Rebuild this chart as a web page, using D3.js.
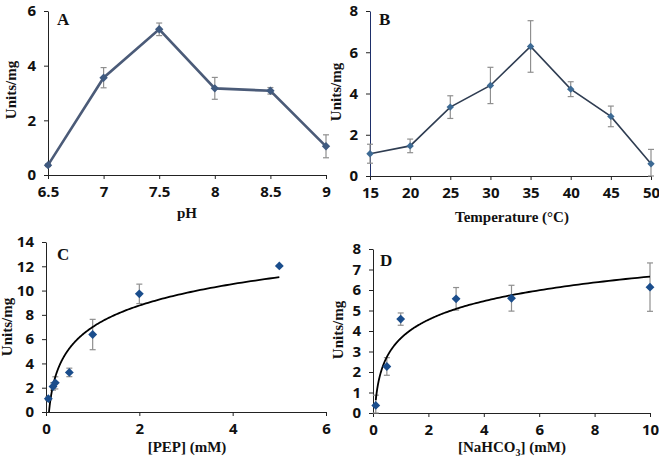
<!DOCTYPE html>
<html>
<head>
<meta charset="utf-8">
<script src="https://cdn.jsdelivr.net/npm/d3@7"></script>
<style>
  body { margin: 0; background: #fff; }
  .tick text { font-family: "Open Sans", sans-serif; font-weight: bold; font-size: 15px; fill: #111; }
  .ttl { font-family: "Liberation Serif", serif; font-weight: bold; font-size: 15px; fill: #111; }
  .letter { font-family: "Liberation Serif", serif; font-weight: bold; font-size: 17px; fill: #111; }
</style>
</head>
<body>
<script>
// A: pH
const phX = [6.5, 7, 7.5, 8, 8.5, 9];
const phY = [0.36, 3.56, 5.33, 3.17, 3.08, 1.05];
const phErr = [0.05, 0.37, 0.23, 0.4, 0.12, 0.42];
// B: temperature
const tempX = [15, 20, 25, 30, 35, 40, 45, 50];
const tempY = [1.08, 1.46, 3.34, 4.39, 6.28, 4.21, 2.89, 0.59];
const tempErr = [0.46, 0.33, 0.55, 0.88, 1.25, 0.36, 0.5, 0.7];
// C: PEP
const pepX = [0.05, 0.15, 0.2, 0.5, 1, 2, 5];
const pepY = [1.1, 2.1, 2.4, 3.26, 6.38, 9.73, 12.03];
const pepErr = [0.15, 0.3, 0.5, 0.35, 1.25, 0.8, 0.05];
const pepFit = { a: 2.55, b: 7.0 };       // log trendline y = a ln x + b
// D: NaHCO3
const bicX = [0.1, 0.5, 1, 3, 5, 10];
const bicY = [0.37, 2.27, 4.58, 5.57, 5.6, 6.14];
const bicErr = [0.5, 0.43, 0.3, 0.55, 0.63, 1.18];
const bicFit = { a: 1.31, b: 3.64 };

const svg = d3.select("body").append("svg").attr("width", 659).attr("height", 464);

function panel(o) {
  const x = d3.scaleLinear().domain(o.xd).range(o.xr);
  const y = d3.scaleLinear().domain(o.yd).range(o.yr);
  const g = svg.append("g");

  g.append("g").attr("transform", `translate(0,${o.yr[0]})`)
    .call(d3.axisBottom(x).tickValues(o.xt).tickSize(4).tickSizeOuter(0).tickPadding(7).tickFormat(d3.format("~g")))
    .call(a => a.select(".domain").attr("stroke", "#222"))
    .call(a => a.selectAll("line").attr("stroke", "#222"))
    .call(a => a.selectAll("text").attr("font-size", null).attr("font-family", null));
  g.append("g").attr("transform", `translate(${o.xr[0]},0)`)
    .call(d3.axisLeft(y).tickValues(o.yt).tickSize(4).tickSizeOuter(0).tickPadding(8).tickFormat(d3.format("~g")))
    .call(a => a.select(".domain").attr("stroke", o.yAxisColor || "#222"))
    .call(a => a.selectAll("line").attr("stroke", "#222"))
    .call(a => a.selectAll("text").attr("font-size", null).attr("font-family", null));

  const data = o.xs.map((d, i) => ({ x: d, y: o.ys[i], e: o.es[i] }));

  // error bars
  const eb = g.selectAll(".eb").data(data).enter().append("g").attr("stroke", "#8f8f8f").attr("stroke-width", 1.2);
  eb.append("line").attr("x1", d => x(d.x)).attr("x2", d => x(d.x))
    .attr("y1", d => y(Math.max(0, d.y - d.e))).attr("y2", d => y(d.y + d.e));
  eb.append("line").attr("x1", d => x(d.x) - 3).attr("x2", d => x(d.x) + 3)
    .attr("y1", d => y(d.y + d.e)).attr("y2", d => y(d.y + d.e));
  eb.append("line").attr("x1", d => x(d.x) - 3).attr("x2", d => x(d.x) + 3)
    .attr("y1", d => y(Math.max(0, d.y - d.e))).attr("y2", d => y(Math.max(0, d.y - d.e)));

  if (o.line) {
    g.append("path").datum(data).attr("fill", "none").attr("stroke", o.line).attr("stroke-width", o.lw)
      .attr("d", d3.line().x(d => x(d.x)).y(d => y(d.y)));
  }
  if (o.fit) {
    const x0 = Math.max(o.xs[0], Math.exp(-o.fit.b / o.fit.a));
    const x1 = o.xs[o.xs.length - 1];
    const pts = d3.range(0, 201).map(i => {
      const xv = x0 * Math.pow(x1 / x0, i / 200);
      return [xv, o.fit.a * Math.log(xv) + o.fit.b];
    });
    g.append("path").datum(pts).attr("fill", "none").attr("stroke", "#000").attr("stroke-width", 1.8)
      .attr("d", d3.line().x(d => x(d[0])).y(d => y(d[1])));
  }

  g.selectAll(".pt").data(data).enter().append("path")
    .attr("transform", d => `translate(${x(d.x)},${y(d.y)})`)
    .attr("d", d3.symbol(d3.symbolDiamond2, o.ms))
    .attr("fill", o.mc);

  svg.append("text").attr("class", "letter").attr("x", o.letterPos[0]).attr("y", o.letterPos[1]).text(o.letter);
  svg.append("text").attr("class", "ttl").attr("text-anchor", "middle")
    .attr("x", o.xtPos[0]).attr("y", o.xtPos[1]).html(o.xtitle);
  svg.append("text").attr("class", "ttl").attr("text-anchor", "middle")
    .attr("transform", `translate(${o.ytPos[0]},${o.ytPos[1]}) rotate(-90)`).text("Units/mg");
}

panel({ xd: [6.5, 9], xr: [48, 326], yd: [0, 6], yr: [175, 11],
  xt: phX, yt: [0, 2, 4, 6], xs: phX, ys: phY, es: phErr,
  line: "#4b5b78", lw: 2.6, mc: "#3f5a80", ms: 45,
  letter: "A", letterPos: [57, 25], xtitle: "pH", xtPos: [187, 218], ytPos: [16, 90] });

panel({ xd: [15, 50], xr: [370, 651], yd: [0, 8], yr: [176, 11],
  xt: tempX, yt: [0, 2, 4, 6, 8], xs: tempX, ys: tempY, es: tempErr,
  line: "#2f3d52", lw: 1.6, mc: "#3d6a94", ms: 35, yAxisColor: "#1e2f6a",
  letter: "B", letterPos: [379, 25], xtitle: "Temperature (°C)", xtPos: [512, 222], ytPos: [341, 92] });

panel({ xd: [0, 6], xr: [46, 326], yd: [0, 14], yr: [412, 242],
  xt: [0, 2, 4, 6], yt: d3.range(0, 15, 2), xs: pepX, ys: pepY, es: pepErr,
  fit: pepFit, mc: "#1a4d8c", ms: 50,
  letter: "C", letterPos: [57, 260], xtitle: "[PEP] (mM)", xtPos: [187, 452], ytPos: [12, 327] });

panel({ xd: [0, 10], xr: [373, 650], yd: [0, 8], yr: [413, 249],
  xt: [0, 2, 4, 6, 8, 10], yt: d3.range(0, 9), xs: bicX, ys: bicY, es: bicErr,
  fit: bicFit, mc: "#1a4d8c", ms: 50,
  letter: "D", letterPos: [380, 266], xtitle: "[NaHCO<tspan dy='4' font-size='10'>3</tspan><tspan dy='-4'>] (mM)</tspan>", xtPos: [512, 452], ytPos: [343, 330] });
</script>
</body>
</html>
